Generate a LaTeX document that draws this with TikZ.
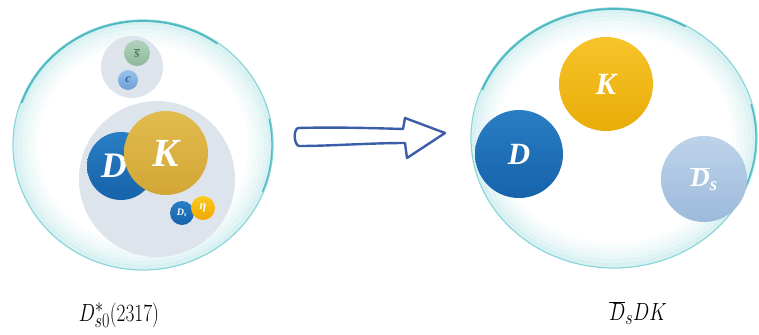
\documentclass[tikz,border=0pt]{standalone}
\usepackage{fontspec}
\setmainfont{Liberation Serif}
\usetikzlibrary{shapes.geometric}

% palette
\definecolor{bubbleedge}{HTML}{ABE1E3}
\definecolor{bubblerim}{HTML}{86D4D7}
\definecolor{bubbletop}{HTML}{4DBAC2}
\definecolor{coregray}{HTML}{DEE4EB}
\definecolor{dblueA}{HTML}{2A7DC4}
\definecolor{dblueB}{HTML}{1663AA}
\definecolor{kgoldA}{HTML}{E2BC4E}
\definecolor{kgoldB}{HTML}{D2A636}
\definecolor{kyelA}{HTML}{F6C42A}
\definecolor{kyelB}{HTML}{E9AC08}
\definecolor{etaA}{HTML}{FBCB22}
\definecolor{etaB}{HTML}{F0A600}
\definecolor{sbarA}{HTML}{B2D3BC}
\definecolor{sbarB}{HTML}{8DB89B}
\definecolor{sbartext}{HTML}{4F7F60}
\definecolor{cA}{HTML}{9CC3EC}
\definecolor{cB}{HTML}{6C9FD8}
\definecolor{ctext}{HTML}{2D5D9E}
\definecolor{dsbarA}{HTML}{BDD3EA}
\definecolor{dsbarB}{HTML}{9DBADB}
\definecolor{arrowblue}{HTML}{3C5DA8}

% soft core fill
\pgfdeclareradialshading{core}{\pgfpoint{0bp}{0bp}}{%
  color(0bp)=(coregray); color(38bp)=(coregray); color(50bp)=(white)}

\tikzset{
  bubble/.style={ellipse, draw=bubblerim, line width=1.2bp, fill=white, inner sep=0pt},
  glow/.style={draw=bubbleedge, line width=4.2bp},
  rimarc/.style={draw=bubbletop, line width=1.8bp, line cap=round},
  corebox/.style={circle, shading=core, inner sep=0pt},
  ball/.style={circle, inner sep=0pt, text=white, font=\bfseries\itshape},
  arrowshape/.style={draw=arrowblue, fill=white, line width=2.4bp, line join=round},
  label/.style={font=\fontsize{29}{33}\selectfont}
}

\begin{document}
\begin{tikzpicture}[x=1bp, y=1bp]
  \useasboundingbox (0,0) rectangle (759,334);

  % bubbles
  \node[bubble, minimum width=260bp, minimum height=250bp] (lb) at (143,189) {};
  \node[bubble, minimum width=286bp, minimum height=260bp] (rb) at (614,196) {};

  % soft cyan glow fading inward from each bubble wall
  \foreach \b/\rx/\ry in {lb/130/125, rb/143/130} {
    \foreach \d/\o in {2.5/0.45, 6.5/0.34, 10.5/0.25, 14.5/0.17, 18.5/0.11, 22.5/0.06} {
      \draw[glow, opacity=\o] (\b.center) ellipse[x radius=\rx-\d, y radius=\ry-\d];
    }
  }
  \draw[rimarc] ([shift={(160:129 and 124)}]lb.center) arc[start angle=160, end angle=55, x radius=129, y radius=124];
  \draw[rimarc, line width=1.3bp] ([shift={(12:129 and 124)}]lb.center) arc[start angle=12, end angle=-22, x radius=129, y radius=124];
  \draw[rimarc] ([shift={(158:142 and 129)}]rb.center) arc[start angle=158, end angle=60, x radius=142, y radius=129];
  \draw[rimarc, line width=1.3bp] ([shift={(15:142 and 129)}]rb.center) arc[start angle=15, end angle=-25, x radius=142, y radius=129];

  % left bubble: quark core and meson cluster
  \node[corebox, minimum size=62bp] (qcore) at (132,267) {};
  \node[corebox, minimum size=156bp] (mcore) at (157,155) {};

  \node[ball, minimum size=26bp, top color=sbarA, bottom color=sbarB, text=sbartext,
        font=\bfseries\itshape\fontsize{14}{14}\selectfont] (sbar) at (137,281) {$\overline{\mbox{s}}$};
  \node[ball, minimum size=20bp, top color=cA, bottom color=cB, text=ctext,
        font=\bfseries\itshape\fontsize{12}{12}\selectfont] (cq) at (128,254) {c};

  \node[ball, minimum size=68bp, top color=dblueA, bottom color=dblueB,
        font=\bfseries\itshape\fontsize{36}{36}\selectfont] (dl) at (121,168) {\hspace*{-14bp}D};
  \node[ball, minimum size=84bp, top color=kgoldA, bottom color=kgoldB,
        font=\bfseries\itshape\fontsize{40}{40}\selectfont] (kl) at (166,181) {K};

  \node[ball, minimum size=24bp, top color=dblueA, bottom color=dblueB,
        font=\bfseries\itshape\fontsize{10}{10}\selectfont] (dsl) at (182,121) {$\mbox{D}_{\mbox{\fontsize{6}{6}\selectfont s}}$};
  \node[ball, minimum size=24bp, top color=etaA, bottom color=etaB,
        font=\bfseries\itshape\fontsize{12}{12}\selectfont] (eta) at (203,126) {η};

  % transition arrow
  \draw[arrowshape]
    (298,206) .. controls (335,207) and (370,206) .. (403,205)
    -- (405,216) -- (445,201) -- (407,176) -- (405,191)
    .. controls (370,191) and (330,188) .. (299,188)
    .. controls (294,189) and (293,204) .. cycle;

  % right bubble: three separated mesons
  \node[ball, minimum size=94bp, top color=kyelA, bottom color=kyelB,
        font=\bfseries\itshape\fontsize{31}{31}\selectfont] (kr) at (606,250) {K};
  \node[ball, minimum size=88bp, top color=dblueA, bottom color=dblueB,
        font=\bfseries\itshape\fontsize{31}{31}\selectfont] (dr) at (519,180) {D};
  \node[ball, minimum size=86bp, top color=dsbarA, bottom color=dsbarB,
        font=\bfseries\itshape\fontsize{27}{27}\selectfont] (dsr) at (704,155)
        {$\overline{\mbox{D}}_{\mbox{\fontsize{19}{19}\selectfont s}}$};

  % captions
  \node[label] (capl) at (119,19) {\scalebox{0.78}[1]{$D^*_{s0}(2317)$}};
  \node[label] (capr) at (638,21) {\scalebox{0.78}[1]{$\overline{D}_s DK$}};
\end{tikzpicture}
\end{document}
